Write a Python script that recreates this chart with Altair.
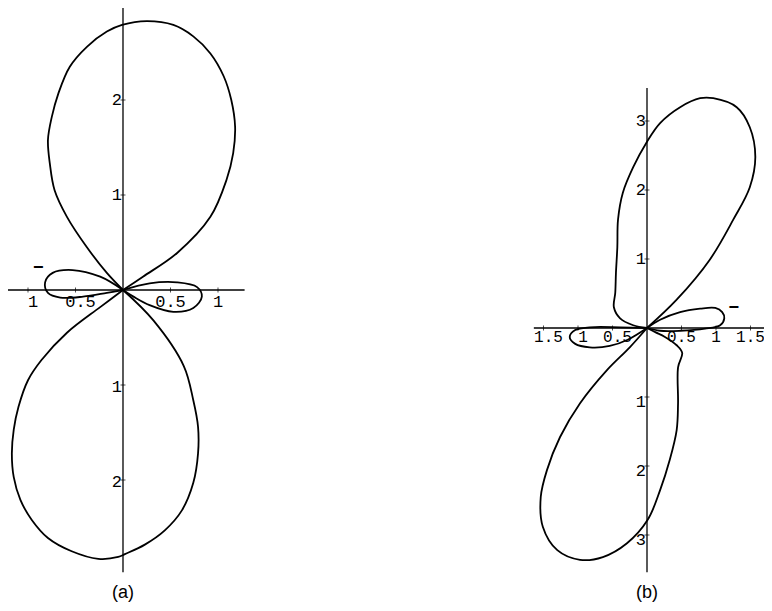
import altair as alt
import pandas as pd

# ---------------- data ----------------
# Panel (a): polar pattern, four lobes, coordinates in axis units
A_UP_X = [0, 0.21, 0.57, 0.92, 1.09, 1.16, 1.18, 1.14, 1.06, 0.92, 0.74, 0.53, 0.25, -0.01, -0.17, -0.38, -0.56, -0.68, -0.75, -0.79, -0.77, -0.72, -0.59, -0.38, -0.17, 0]
A_UP_Y = [0, 0.14, 0.39, 0.77, 1.16, 1.44, 1.72, 2.00, 2.25, 2.49, 2.67, 2.79, 2.83, 2.79, 2.72, 2.56, 2.35, 2.07, 1.82, 1.58, 1.33, 1.05, 0.77, 0.45, 0.18, 0]
A_LEFT_X = [0, -0.24, -0.53, -0.74, -0.82, -0.79, -0.66, -0.42, -0.17, 0]
A_LEFT_Y = [0, 0.14, 0.21, 0.18, 0.08, -0.03, -0.08, -0.07, -0.03, 0]
A_LOW_X = [0, -0.24, -0.59, -0.86, -1.00, -1.10, -1.15, -1.17, -1.15, -1.08, -0.96, -0.79, -0.54, -0.26, -0.05, 0.02, 0.23, 0.44, 0.62, 0.74, 0.79, 0.79, 0.74, 0.64, 0.32, 0]
A_LOW_Y = [0, -0.18, -0.45, -0.74, -0.95, -1.23, -1.47, -1.72, -1.97, -2.21, -2.42, -2.61, -2.75, -2.83, -2.81, -2.78, -2.68, -2.53, -2.32, -2.03, -1.72, -1.44, -1.16, -0.80, -0.32, 0]
A_RIGHT_X = [0, 0.11, 0.28, 0.53, 0.74, 0.83, 0.78, 0.57, 0.28, 0]
A_RIGHT_Y = [0, -0.07, -0.16, -0.23, -0.19, -0.07, 0.03, 0.08, 0.07, 0]

# Panel (b)
B_UP_X = [0, 0.43, 0.91, 1.25, 1.49, 1.57, 1.49, 1.30, 0.96, 0.77, 0.48, 0.19, 0.00, -0.20, -0.35, -0.42, -0.43, -0.45, -0.46, -0.48, -0.39, -0.20, 0]
B_UP_Y = [0, 0.41, 0.99, 1.57, 2.04, 2.48, 2.91, 3.20, 3.33, 3.33, 3.20, 2.97, 2.70, 2.33, 1.96, 1.57, 1.17, 0.80, 0.51, 0.30, 0.14, 0.04, 0]
B_RIGHT_X = [0, 0.19, 0.48, 0.84, 1.06, 1.12, 1.09, 0.99, 0.77, 0.48, 0.19, 0]
B_RIGHT_Y = [0, -0.04, -0.04, -0.01, 0.04, 0.14, 0.23, 0.29, 0.28, 0.23, 0.12, 0]
B_LEFT_X = [0, -0.39, -0.83, -1.04, -1.12, -1.04, -0.83, -0.54, -0.28, 0]
B_LEFT_Y = [0, 0.01, 0.01, -0.03, -0.13, -0.23, -0.28, -0.26, -0.17, 0]
B_LOW_X = [0, -0.25, -0.58, -0.97, -1.26, -1.45, -1.54, -1.51, -1.30, -0.97, -0.64, -0.29, 0.01, 0.19, 0.33, 0.43, 0.45, 0.45, 0.51, 0.43, 0.26, 0.12, 0]
B_LOW_Y = [0, -0.28, -0.61, -1.09, -1.58, -2.06, -2.45, -2.88, -3.22, -3.36, -3.32, -3.12, -2.78, -2.35, -1.91, -1.48, -1.09, -0.57, -0.36, -0.25, -0.13, -0.06, 0]

# Tick values and their printed labels (minus signs are missing in the original print)
A_XTICKS = [-1, -0.5, 0.5, 1]
A_XLABELS = ["1", "0.5", "0.5", "1"]
A_YTICKS = [2, 1, -1, -2]
A_YLABELS = ["2", "1", "1", "2"]
B_XTICKS = [-1.5, -1, -0.5, 0.5, 1, 1.5]
B_XLABELS = ["1.5", "1", "0.5", "0.5", "1", "1.5"]
B_YTICKS = [3, 2, 1, -1, -2, -3]
B_YLABELS = ["3", "2", "1", "1", "2", "3"]

# Axis line extents
A_AXIS_X = [-1.24, 1.28]
A_AXIS_Y = [-2.97, 2.97]
B_AXIS_X = [-1.64, 1.80]
B_AXIS_Y = [-3.54, 3.48]

CAPTIONS = ["(a)", "(b)"]

# ---------------- layout ----------------
W, H = 756, 595
PANELS = {
    "a": dict(xdom=[-1.2105, 1.4211], xrange=[0, 250], ydom=[-3.2947, 2.9684]),
    "b": dict(xdom=[-1.8406, 1.6957], xrange=[512, 756], ydom=[-3.9855, 4.6377]),
}
MONO = "Liberation Mono"


def xenc(p, field="x"):
    c = PANELS[p]
    return alt.X(field, type="quantitative", axis=None,
                 scale=alt.Scale(domain=c["xdom"], range=c["xrange"], nice=False, zero=False))


def yenc(p, field="y"):
    c = PANELS[p]
    return alt.Y(field, type="quantitative", axis=None,
                 scale=alt.Scale(domain=c["ydom"], range=[H, 0], nice=False, zero=False))


def curve_df(lobes):
    rows = []
    for name, xs, ys in lobes:
        for i, (x, y) in enumerate(zip(xs, ys)):
            rows.append(dict(lobe=name, order=i, x=x, y=y))
    return pd.DataFrame(rows)


def panel_layers(p, lobes, axx, axy, xt, xl, yt, yl, lab_dy, lab_size, minus_xy, cap, cap_y, neg_dy):
    layers = []
    # axes
    axes = pd.DataFrame([
        dict(x=axx[0], x2=axx[1], y=0, y2=0),
        dict(x=0, x2=0, y=axy[0], y2=axy[1]),
    ])
    layers.append(alt.Chart(axes).mark_rule(color="black", strokeWidth=1.3).encode(
        x=xenc(p), x2="x2:Q", y=yenc(p), y2="y2:Q"))
    # ticks
    xtdf = pd.DataFrame(dict(x=xt, y=[0] * len(xt)))
    ytdf = pd.DataFrame(dict(x=[0] * len(yt), y=yt))
    layers.append(alt.Chart(xtdf).mark_tick(orient="vertical", size=5, thickness=1, color="black").encode(
        x=xenc(p), y=yenc(p)))
    layers.append(alt.Chart(ytdf).mark_tick(orient="horizontal", size=5, thickness=1, color="black").encode(
        x=xenc(p), y=yenc(p)))
    # curve
    layers.append(alt.Chart(curve_df(lobes)).mark_line(
        color="black", strokeWidth=1.8, interpolate="catmull-rom").encode(
        x=xenc(p), y=yenc(p), detail="lobe:N", order="order:Q"))
    # x tick labels
    xldf = pd.DataFrame(dict(x=xt, y=[0] * len(xt), label=xl))
    layers.append(alt.Chart(xldf).transform_filter("datum.x < 0").mark_text(
        font=MONO, fontSize=lab_size, baseline="middle", align="center", dx=5, dy=lab_dy, color="black").encode(
        x=xenc(p), y=yenc(p), text="label:N"))
    layers.append(alt.Chart(xldf).transform_filter("datum.x > 0").mark_text(
        font=MONO, fontSize=lab_size, baseline="middle", align="center", dx=0, dy=lab_dy, color="black").encode(
        x=xenc(p), y=yenc(p), text="label:N"))
    # y tick labels
    yldf = pd.DataFrame(dict(x=[0] * len(yt), y=yt, label=yl))
    layers.append(alt.Chart(yldf).transform_filter("datum.y > 0").mark_text(
        font=MONO, fontSize=17, baseline="middle", align="right", dx=-1, color="black").encode(
        x=xenc(p), y=yenc(p), text="label:N"))
    layers.append(alt.Chart(yldf).transform_filter("datum.y < 0").mark_text(
        font=MONO, fontSize=17, baseline="middle", align="right", dx=-1, dy=neg_dy, color="black").encode(
        x=xenc(p), y=yenc(p), text="label:N"))
    # stray minus sign
    mdf = pd.DataFrame(dict(x=[minus_xy[0]], y=[minus_xy[1]], label=["\u2212"]))
    layers.append(alt.Chart(mdf).mark_text(
        font=MONO, fontSize=18, fontWeight="bold", baseline="middle", align="center", color="black").encode(
        x=xenc(p), y=yenc(p), text="label:N"))
    # caption
    cdf = pd.DataFrame(dict(x=[0], y=[cap_y], label=[cap]))
    layers.append(alt.Chart(cdf).mark_text(
        font="Liberation Sans", fontSize=18, baseline="middle", align="center", color="black").encode(
        x=xenc(p), y=yenc(p), text="label:N"))
    return layers


layers_a = panel_layers(
    "a",
    [("up", A_UP_X, A_UP_Y), ("left", A_LEFT_X, A_LEFT_Y),
     ("low", A_LOW_X, A_LOW_Y), ("right", A_RIGHT_X, A_RIGHT_Y)],
    A_AXIS_X, A_AXIS_Y, A_XTICKS, A_XLABELS, A_YTICKS, A_YLABELS,
    lab_dy=12, lab_size=17, minus_xy=(-0.89, 0.23), cap=CAPTIONS[0], cap_y=-3.19, neg_dy=2)

layers_b = panel_layers(
    "b",
    [("up", B_UP_X, B_UP_Y), ("right", B_RIGHT_X, B_RIGHT_Y),
     ("left", B_LEFT_X, B_LEFT_Y), ("low", B_LOW_X, B_LOW_Y)],
    B_AXIS_X, B_AXIS_Y, B_XTICKS, B_XLABELS, B_YTICKS, B_YLABELS,
    lab_dy=9, lab_size=16, minus_xy=(1.26, 0.29), cap=CAPTIONS[1], cap_y=-3.84, neg_dy=5)

chart = alt.layer(*(layers_a + layers_b)).resolve_scale(
    x="independent", y="independent"
).properties(
    width=W, height=H, padding=0, background="white",
    autosize=alt.AutoSizeParams(type="none"),
).configure_view(stroke=None)

chart.save("out.html", embed_options={"renderer": "svg", "actions": False})
